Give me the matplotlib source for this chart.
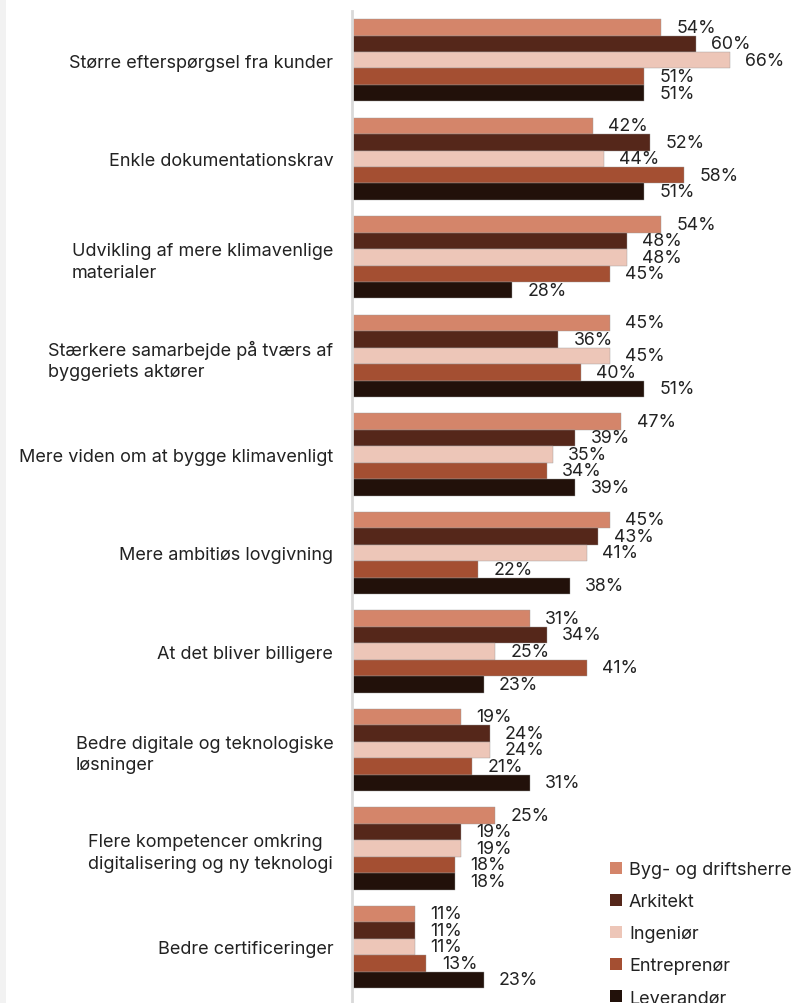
import matplotlib.pyplot as plt
import numpy as np
from matplotlib.patches import Patch, Rectangle

plt.rcParams['font.family'] = ['Inter', 'DejaVu Sans']

categories = [
    "Større efterspørgsel fra kunder",
    "Enkle dokumentationskrav",
    "Udvikling af mere klimavenlige\nmaterialer",
    "Stærkere samarbejde på tværs af\nbyggeriets aktører",
    "Mere viden om at bygge klimavenligt",
    "Mere ambitiøs lovgivning",
    "At det bliver billigere",
    "Bedre digitale og teknologiske\nløsninger",
    "Flere kompetencer omkring\ndigitalisering og ny teknologi",
    "Bedre certificeringer",
]
series_names = ["Byg- og driftsherre", "Arkitekt", "Ingeniør", "Entreprenør", "Leverandør"]
byg = [54, 42, 54, 45, 47, 45, 31, 19, 25, 11]
arkitekt = [60, 52, 48, 36, 39, 43, 34, 24, 19, 11]
ingenior = [66, 44, 48, 45, 35, 41, 25, 24, 19, 11]
entreprenor = [51, 58, 45, 40, 34, 22, 41, 21, 18, 13]
leverandor = [51, 51, 28, 51, 39, 38, 23, 31, 18, 23]
colors = ["#D4856A", "#55271A", "#EDC6B8", "#A44F32", "#22110A"]

values = [byg, arkitekt, ingenior, entreprenor, leverandor]

fig = plt.figure(figsize=(7.91, 10.04), dpi=100)
# light strip on left edge
fig.patches.append(Rectangle((0, 0), 6 / 791, 1, transform=fig.transFigure,
                             facecolor="#F2F2F2", edgecolor="none"))
ax = fig.add_axes([352 / 791, 0.0, 435 / 791, 1 - 12 / 1004])

y = np.arange(len(categories))
h = 0.1675
for k, (name, vals) in enumerate(zip(series_names, values)):
    pos = y - 2 * h + k * h
    bars = ax.barh(pos, vals, height=h, color=colors[k], label=name,
                   edgecolor="#9a9a9a", linewidth=0.3)
    for b, v in zip(bars, vals):
        ax.annotate(f"{v}%", (v, b.get_y() + h / 2), xytext=(11, 0),
                    textcoords="offset points", va="center", ha="left",
                    fontsize=12.8, color="#222222")

ax.set_xlim(0, 435 / 5.73)
ax.set_ylim(9.571, -0.5)
ax.set_yticks(y)
ax.set_yticklabels(categories, fontsize=13, color="#222222",
                   ha="right", multialignment="left", linespacing=1.35)
ax.tick_params(axis="y", length=0, pad=13.5)
ax.set_xticks([])
for s in ["top", "right", "bottom"]:
    ax.spines[s].set_visible(False)
ax.spines["left"].set_color("#D9D9D9")
ax.spines["left"].set_linewidth(2)

handles = [Patch(facecolor=c, edgecolor="none") for c in colors]
fig.legend(handles, series_names, loc="upper left",
           bbox_to_anchor=(610 / 791, 1 - 862 / 1004), frameon=False,
           fontsize=13, handlelength=0.65, handleheight=0.65,
           handletextpad=0.4, labelspacing=0.84, borderpad=0,
           borderaxespad=0, labelcolor="#222222")

fig.savefig("out.png", dpi=100)
